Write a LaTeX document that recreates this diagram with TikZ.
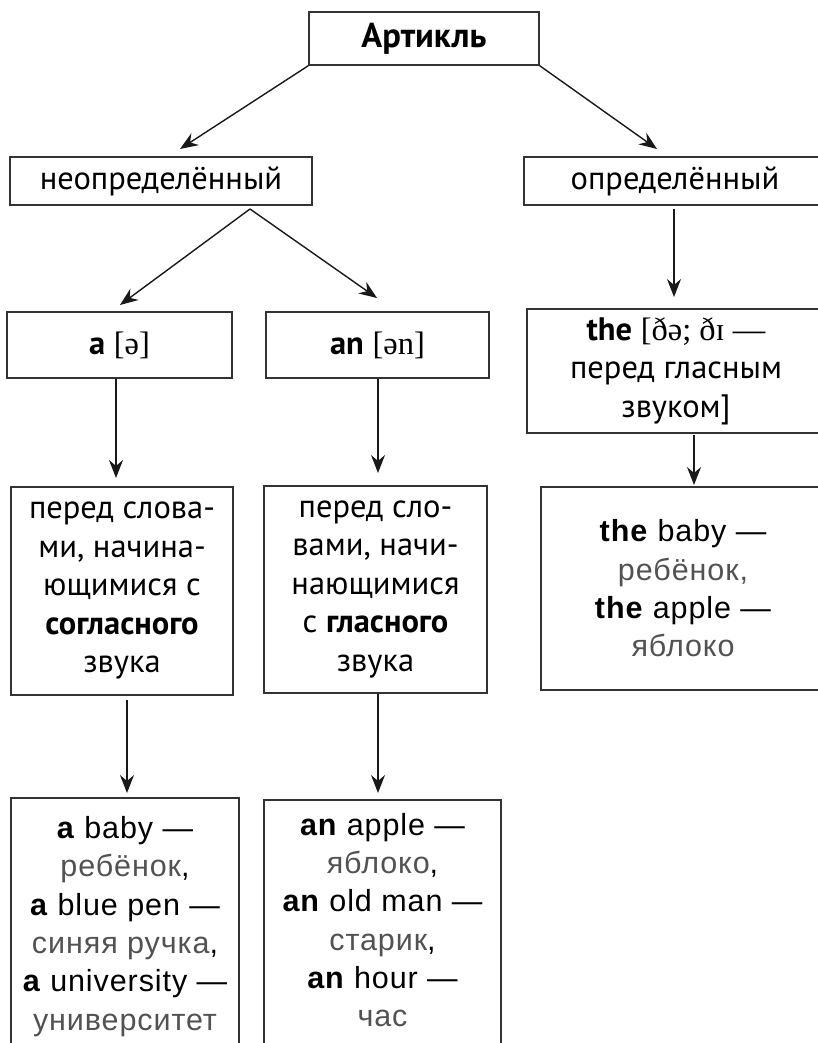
\documentclass[tikz,border=0pt]{standalone}
\usepackage{fontspec}
\setmainfont{PT Sans}
\newfontfamily\exfont{Liberation Sans}[LetterSpace=3]
\newfontfamily\ipafont{Liberation Serif}
\usetikzlibrary{arrows.meta,calc}
\newcommand{\tr}[1]{{\color{black!68}#1}}
\begin{document}
\begin{tikzpicture}[x=1pt,y=-1pt,
  box/.style={draw=black!80, line width=1.5pt, inner sep=0pt, align=center,
    font=\fontsize{32.5}{38.5}\selectfont},
  extext/.style={inner sep=0pt, align=center, font=\exfont\fontsize{30.5}{38.3}\selectfont},
  arr/.style={draw=black!90, line width=1.4pt, -{Stealth[length=18pt,width=14pt,inset=6pt]}}]
\useasboundingbox (0,0) rectangle (818,1043);

\node[box, minimum width=230, minimum height=53, font=\bfseries\fontsize{34.5}{38}\selectfont] (art) at (424,38.5) {Артикль};
\node[box, minimum width=302, minimum height=48] (indef) at (161,181) {неопределённый};
\node[box, minimum width=302, minimum height=48] (def) at (675,181) {определённый};
\node[box, minimum width=225, minimum height=66] (a) at (119.5,345) {\textbf{a} {\ipafont [ə]}};
\node[box, minimum width=223, minimum height=66] (an) at (377.5,345) {\textbf{an} {\ipafont [ən]}};
\node[box, minimum width=298, minimum height=124] (the) at (676,371)
  {\textbf{the} {\ipafont [ðə; ðɪ —}\\перед гласным\\звуком]};
\node[box, minimum width=222, minimum height=208] (cons) at (122,591)
  {перед слова-\\ми, начина-\\ющимися с\\\textbf{согласного}\\звука};
\node[box, minimum width=223, minimum height=207] (vow) at (375.5,589.5)
  {перед сло-\\вами, начи-\\нающимися\\с \textbf{гласного}\\звука};
\node[box, minimum width=284, minimum height=203, font=\exfont\fontsize{30.5}{38.3}\selectfont] (theex) at (683,588.5)
  {\textbf{the} baby —\\\tr{ребёнок,}\\\textbf{the} apple —\\\tr{яблоко}};
\node[box, minimum width=228, minimum height=262] (aex) at (125,929) {};
\node[extext] (aext) at (125,926.5)
  {\textbf{a} baby —\\\tr{ребёнок},\\\textbf{a} blue pen —\\\tr{синяя ручка},\\\textbf{a} university —\\\tr{университет}};
\node[box, minimum width=237, minimum height=260] (anex) at (382.5,930) {};
\node[extext] (anext) at (382.5,920)
  {\textbf{an} apple —\\\tr{яблоко},\\\textbf{an} old man —\\\tr{старик},\\\textbf{an} hour —\\\tr{час}};

\coordinate (e1) at (180,149);
\coordinate (e2) at (657,149);
\coordinate (s3) at (250,209);
\coordinate (e3) at (120,305);
\coordinate (e4) at (377,298);
\coordinate (s5) at (674,209);
\coordinate (e5) at (674,297);
\coordinate (s6) at (116,379);
\coordinate (e6) at (116,478);
\coordinate (s7) at (378,379);
\coordinate (e7) at (378,473);
\coordinate (s8) at (694,435);
\coordinate (e8) at (694,485);
\coordinate (s9) at (127,700);
\coordinate (e9) at (127,793);
\coordinate (s10) at (378,694);
\coordinate (e10) at (378,793);

\draw[arr] (art.south west) -- (e1);
\draw[arr] (art.south east) -- (e2);
\draw[arr] (s3) -- (e3);
\draw[arr] (s3) -- (e4);
\draw[arr] (s5) -- (e5);
\draw[arr] (s6) -- (e6);
\draw[arr] (s7) -- (e7);
\draw[arr] (s8) -- (e8);
\draw[arr] (s9) -- (e9);
\draw[arr] (s10) -- (e10);
\end{tikzpicture}
\end{document}
